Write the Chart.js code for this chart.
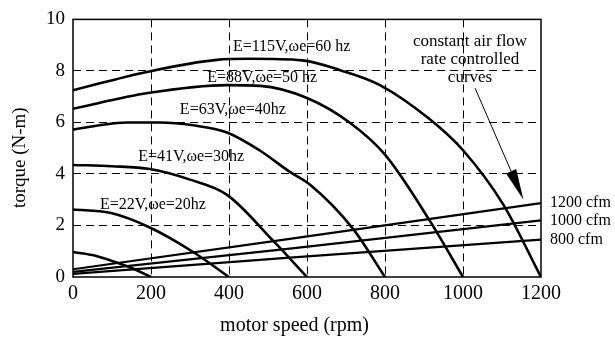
<!DOCTYPE html>
<html>
<head>
<meta charset="utf-8">
<script src="https://cdn.jsdelivr.net/npm/chart.js@4/dist/chart.umd.min.js"></script>
<style>
  html, body { margin: 0; padding: 0; background: #fff; }
  #wrap { width: 615px; height: 338px; position: relative; }
</style>
</head>
<body>
<div id="wrap"><canvas id="torqueChart"></canvas></div>
<script>
// Curve torque vs motor speed, one pair of arrays per supply frequency
const speed10 = [0, 50, 100, 150, 200];
const torque10 = [0.97, 0.85, 0.62, 0.35, 0];

const speed20 = [0, 95, 197, 308, 400];
const torque20 = [2.62, 2.49, 1.92, 0.97, 0];

const speed30 = [0, 100, 197, 300, 395, 513, 600];
const torque30 = [4.35, 4.3, 4.19, 3.78, 3.19, 1.41, 0];

const speed40 = [0, 60, 138, 223, 308, 395, 479, 556, 608, 718, 800];
const torque40 = [5.72, 5.87, 6.0, 6.0, 5.89, 5.61, 4.91, 4.08, 3.58, 1.87, 0];

const speed50 = [0, 192, 395, 480, 600, 710, 800, 915, 1000];
const torque50 = [6.53, 7.14, 7.45, 7.42, 6.95, 5.99, 4.75, 2.18, 0];

const speed60 = [0, 192, 369, 454, 587, 685, 787, 915, 1000, 1103, 1200];
const torque60 = [7.25, 7.97, 8.43, 8.47, 8.41, 8.03, 7.45, 6.12, 4.92, 2.82, 0];

// constant air flow load lines
const flowSpeed = [0, 556, 1200];
const flow800 = [0.12, 0.75, 1.45];
const flow1000 = [0.2, 1.1, 2.2];
const flow1200 = [0.3, 1.48, 2.87];

const speedTicks = [0, 200, 400, 600, 800, 1000, 1200];
const torqueTicks = [0, 2, 4, 6, 8, 10];

// curve captions: [text, speed, torque]
const curveLabels = [
    ['E=115V,\u03c9e=60 hz', 410, 8.93],
    ['E=88V,\u03c9e=50 hz', 344, 7.75],
    ['E=63V,\u03c9e=40hz', 274, 6.49],
    ['E=41V,\u03c9e=30hz', 167, 4.66],
    ['E=22V,\u03c9e=20hz', 69, 2.82]
];
const noteLines = ['constant air flow', 'rate controlled', 'curves'];
const flowNames = ['1200 cfm', '1000 cfm', '800 cfm'];

const SERIF = '"Liberation Serif", "Times New Roman", serif';

function toPoints(xs, ys) {
    return xs.map((x, i) => ({ x: x, y: ys[i] }));
}

function curve(xs, ys) {
    return {
        data: toPoints(xs, ys),
        borderColor: '#000',
        borderWidth: 2.6,
        pointRadius: 0,
        fill: false,
        cubicInterpolationMode: 'monotone'
    };
}

function flowLine(ys) {
    return {
        data: toPoints(flowSpeed, ys),
        borderColor: '#000',
        borderWidth: 2.2,
        pointRadius: 0,
        fill: false,
        tension: 0
    };
}

// texts, arrow and solid frame on top of the plot
const decorPlugin = {
    id: 'decor',
    afterDatasetsDraw(chart) {
        const ctx = chart.ctx;
        const xs = chart.scales.x;
        const ys = chart.scales.y;
        const area = chart.chartArea;
        const px = v => xs.getPixelForValue(v);
        const py = v => ys.getPixelForValue(v);

        ctx.save();
        ctx.strokeStyle = '#000';
        ctx.lineWidth = 1.5;
        ctx.setLineDash([]);
        ctx.strokeRect(area.left, area.top, area.right - area.left, area.bottom - area.top);

        ctx.fillStyle = '#000';
        ctx.font = '16px ' + SERIF;
        ctx.textBaseline = 'middle';
        ctx.textAlign = 'left';
        curveLabels.forEach(l => ctx.fillText(l[0], px(l[1]), py(l[2])));

        ctx.textAlign = 'center';
        ctx.font = '17px ' + SERIF;
        const noteY = [9.16, 8.44, 7.75];
        noteLines.forEach((t, i) => ctx.fillText(t, px(1018), py(noteY[i])));

        ctx.textAlign = 'left';
        ctx.font = '16px ' + SERIF;
        const ends = [flow1200[2], flow1000[2], flow800[2]];
        flowNames.forEach((t, i) => ctx.fillText(t, area.right + 9, py(ends[i])));

        // arrow pointing at the air flow lines
        const x0 = px(1031), y0 = py(7.33);
        const x1 = px(1155), y1 = py(3.0);
        const ang = Math.atan2(y1 - y0, x1 - x0);
        const head = 31, half = 5.5;
        const bx = x1 - head * Math.cos(ang), by = y1 - head * Math.sin(ang);
        ctx.lineWidth = 1;
        ctx.beginPath();
        ctx.moveTo(x0, y0);
        ctx.lineTo(bx, by);
        ctx.stroke();
        ctx.beginPath();
        ctx.moveTo(x1, y1);
        ctx.lineTo(bx + half * Math.sin(ang), by - half * Math.cos(ang));
        ctx.lineTo(bx - half * Math.sin(ang), by + half * Math.cos(ang));
        ctx.closePath();
        ctx.fill();
        ctx.restore();
    }
};

const gridColor = edge => ctx => (ctx.tick && edge.includes(ctx.tick.value)) ? 'rgba(0,0,0,0)' : '#000';

new Chart(document.getElementById('torqueChart').getContext('2d'), {
    type: 'line',
    data: {
        datasets: [
            curve(speed10, torque10),
            curve(speed20, torque20),
            curve(speed30, torque30),
            curve(speed40, torque40),
            curve(speed50, torque50),
            curve(speed60, torque60),
            flowLine(flow800),
            flowLine(flow1000),
            flowLine(flow1200)
        ]
    },
    options: {
        responsive: true,
        maintainAspectRatio: false,
        animation: false,
        events: [],
        layout: { padding: { left: 0, right: 74, top: 15, bottom: 0 } },
        plugins: {
            legend: { display: false },
            tooltip: { enabled: false }
        },
        scales: {
            x: {
                type: 'linear',
                min: 0,
                max: 1200,
                afterFit(scale) { scale.height = 61; },
                afterBuildTicks(scale) { scale.ticks = speedTicks.map(v => ({ value: v })); },
                grid: { color: gridColor([0, 1200]), lineWidth: 1, drawTicks: false },
                border: { display: false, dash: [8, 5] },
                ticks: {
                    color: '#000',
                    padding: 5,
                    maxRotation: 0,
                    callback: v => String(v),
                    font: { family: SERIF, size: 20 }
                },
                title: {
                    display: true,
                    text: 'motor speed (rpm)     ',
                    color: '#000',
                    padding: { top: 0, bottom: 0 },
                    font: { family: SERIF, size: 20 }
                }
            },
            y: {
                min: 0,
                max: 10,
                afterFit(scale) { scale.width = 73; },
                afterBuildTicks(scale) { scale.ticks = torqueTicks.map(v => ({ value: v })); },
                grid: { color: gridColor([0, 10]), lineWidth: 1, drawTicks: false },
                border: { display: false, dash: [8, 5] },
                ticks: {
                    color: '#000',
                    padding: 8,
                    callback: v => String(v),
                    font: { family: SERIF, size: 19 }
                },
                title: {
                    display: true,
                    text: 'torque (N-m)    ',
                    color: '#000',
                    padding: { top: 9, bottom: 0 },
                    font: { family: SERIF, size: 19 }
                }
            }
        }
    },
    plugins: [decorPlugin]
});
</script>
</body>
</html>
